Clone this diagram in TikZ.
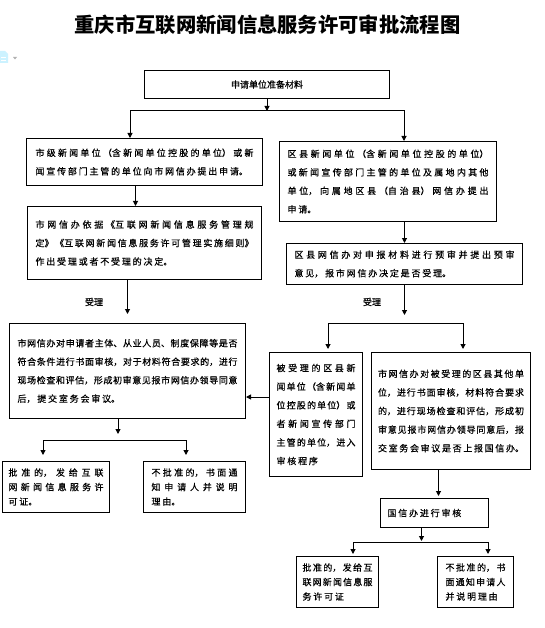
\documentclass[tikz,border=0pt]{standalone}
\usepackage{fontspec}
\usetikzlibrary{arrows.meta}
\newfontfamily\cjk[FakeBold=0.5]{Noto Sans CJK SC}
\newfontfamily\cjktitle{Noto Sans CJK SC}
\XeTeXlinebreaklocale "zh"
\XeTeXlinebreakskip=1.8pt plus 2pt minus 1.5pt
\XeTeXlinebreakpenalty=0
\tolerance=9999
\hbadness=10000
\hfuzz=5pt
\begin{document}
\begin{tikzpicture}[x=1pt,y=-1pt,
  box/.style={draw, line width=1pt, anchor=north west, inner sep=0pt,
    font=\cjk\fontsize{9}{18.5}\selectfont, align=justify},
  smallbox/.style={box, font=\cjk\fontsize{9}{14.5}\selectfont},
  conn/.style={line width=1pt},
  arr/.style={conn, -{Triangle[length=5pt,width=5pt]}},
  arr2/.style={conn, {Triangle[length=5pt,width=5pt]}-{Triangle[length=5pt,width=5pt]}},
  lbl/.style={font=\cjk\fontsize{9}{11}\selectfont, inner sep=0pt}]
\fill[white] (0,0) rectangle (545,628);
\useasboundingbox (0,0) rectangle (545,628);
% page icon (browser artefact)
\fill[blue!25!cyan!20] (0,51) -- (5,51) -- (8,54) -- (8,63) -- (0,63) -- cycle;
\fill[white] (1,57) rectangle (6,58);
\fill[white] (1,60) rectangle (6,61);
\fill[gray!60] (13,57) -- (17,57) -- (15,59.5) -- cycle;
% title
\node[font=\cjktitle\bfseries\fontsize{20.3}{24}\selectfont, inner sep=0pt] (title) at (267.5,25) {重庆市互联网新闻信息服务许可审批流程图};
% boxes
\node[box, minimum width=245pt, minimum height=28pt, align=center] (T) at (144,70) {申请单位准备材料};
\node[box, minimum width=236pt, minimum height=47pt, text width=218pt] (L1) at (26,138) {市级新闻单位（含新闻单位控股的单位）或新\linebreak 闻宣传部门主管的单位向市网信办提出申请。};
\node[box, minimum width=234pt, minimum height=73pt, text width=218pt] (L2) at (27,206) {市网信办依据《互联网新闻信息服务管理规\linebreak 定》《互联网新闻信息服务许可管理实施细则》\linebreak 作出受理或者不受理的决定。};
\node[box, minimum width=236pt, minimum height=95pt, text width=220pt] (L3) at (9,323) {市网信办对申请者主体、从业人员、制度保障等是否\linebreak 符合条件进行书面审核，对于材料符合要求的，进行\linebreak 现场检查和评估，形成初审意见报市网信办领导同意\linebreak 后，提交室务会审议。};
\node[smallbox, minimum width=107pt, minimum height=51pt, text width=95pt] (L4a) at (2,461) {批准的，发给互联\linebreak 网新闻信息服务许\linebreak 可证。};
\node[smallbox, minimum width=102pt, minimum height=51pt, text width=86pt] (L4b) at (143,461) {不批准的，书面通\linebreak 知申请人并说明\linebreak 理由。};
\node[box, minimum width=217pt, minimum height=80pt, text width=201pt] (R1) at (279,141) {区县新闻单位（含新闻单位控股的单位）\linebreak 或新闻宣传部门主管的单位及属地内其他\linebreak 单位，向属地区县（自治县）网信办提出\linebreak 申请。};
\node[box, minimum width=236pt, minimum height=41pt, text width=220pt] (R2) at (286,243) {区县网信办对申报材料进行预审并提出预审\linebreak 意见，报市网信办决定是否受理。};
\node[box, font=\cjk\fontsize{9}{18.6}\selectfont, minimum width=93pt, minimum height=124pt, text width=79pt] (R3a) at (269,352) {被受理的区县新\linebreak 闻单位（含新闻单\linebreak 位控股的单位）或\linebreak 者新闻宣传部门\linebreak 主管的单位，进入\linebreak 审核程序};
\node[box, font=\cjk\fontsize{9}{18.6}\selectfont, minimum width=159pt, minimum height=117pt, text width=146pt] (R3b) at (371,352) {市网信办对被受理的区县其他单\linebreak 位，进行书面审核，材料符合要求\linebreak 的，进行现场检查和评估，形成初\linebreak 审意见报市网信办领导同意后，报\linebreak 交室务会审议是否上报国信办。\par\vspace*{10pt}};
\node[box, minimum width=108pt, minimum height=29pt, text width=94pt, align=left] (R4) at (380,498) {国信办进行审核};
\node[smallbox, minimum width=82pt, minimum height=51pt, text width=70pt] (R5a) at (296,556) {批准的，发给互\linebreak 联网新闻信息服\linebreak 务许可证};
\node[smallbox, minimum width=76pt, minimum height=51pt, text width=60pt] (R5b) at (437,556) {不批准的，书\linebreak 面通知申请人\linebreak 并说明理由};
% labels
\node[lbl] (acc1) at (94,302) {受理};
\node[lbl] (acc2) at (372,302) {受理};
% bus coordinates
\coordinate (bus1L) at (130,111);
\coordinate (bus1R) at (404,111);
\coordinate (bus2L) at (43,440);
\coordinate (bus2M) at (118,440);
\coordinate (bus2R) at (186,440);
\coordinate (bus3L) at (328,323);
\coordinate (bus3R) at (463,323);
\coordinate (bus4L) at (353,542);
\coordinate (bus4R) at (488,542);
% connectors
\draw[arr] (T.south) -- (T.south |- bus1L);
\draw[arr2] (bus1L |- L1.north) -- (bus1L) -- (bus1R) -- (bus1R |- R1.north);
\draw[arr] ([xshift=-9pt]L1.south) -- ([xshift=-9pt]L1.south |- L2.north);
\draw[arr, shorten >=9pt] (L2.south -| L3.north) -- (L3.north);
\draw[arr, shorten >=6pt] (L3.south -| bus2M) -- (bus2M);
\draw[arr2, shorten <=6pt, shorten >=6pt] (bus2L |- L4a.north) -- (bus2L) -- (bus2R) -- (bus2R |- L4b.north);
\draw[arr] ([yshift=-45pt]R3a.north west) -- ([yshift=-45pt]R3a.north west -| L3.east);
\draw[arr] (R2.north |- R1.south) -- (R2.north);
\draw[arr, shorten >=8pt] (R2.south) -- (R2.south |- bus3L);
\draw[arr2, shorten <=3pt, shorten >=3pt] (bus3L |- R3a.north) -- (bus3L) -- (bus3R) -- (bus3R |- R3b.north);
\draw[arr, shorten >=2pt] ([xshift=4pt]R4.north |- R3b.south) -- ([xshift=4pt]R4.north);
\draw[arr, shorten >=1pt] ([xshift=-13pt]R4.south) -- ([xshift=-13pt]R4.south |- bus4L);
\draw[arr2, shorten <=2pt, shorten >=2pt] (bus4L |- R5a.north) -- (bus4L) -- (bus4R) -- (bus4R |- R5b.north);
\end{tikzpicture}
\end{document}
